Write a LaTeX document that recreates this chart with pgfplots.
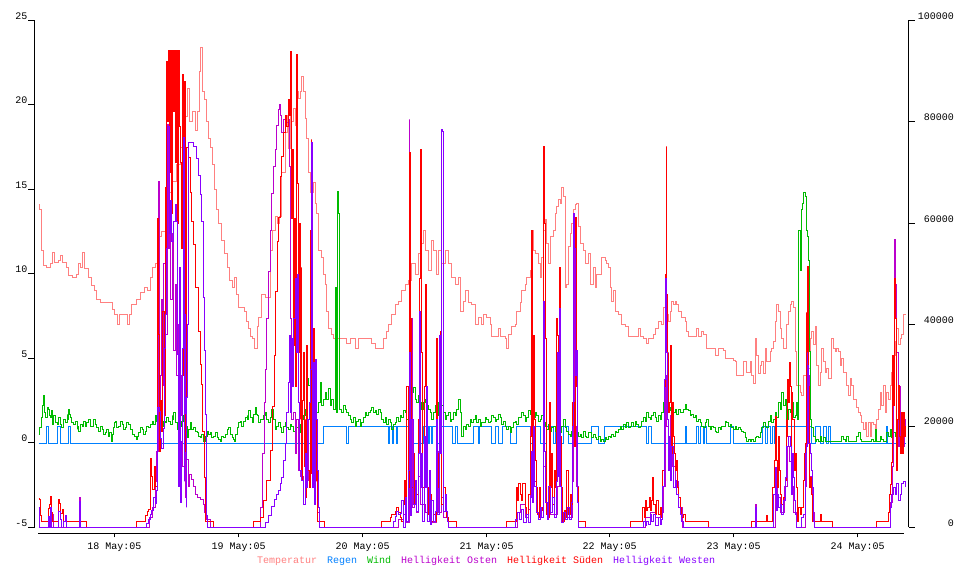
\documentclass[border=0pt]{standalone}
\usepackage{pgfplots}
\pgfplotsset{compat=1.18}
\usepackage{fontspec}
\setmainfont{Liberation Mono}
\definecolor{ctemp}{HTML}{FF8080}
\definecolor{cregen}{HTML}{0080FF}
\definecolor{cwind}{HTML}{00BB00}
\definecolor{costen}{HTML}{BB00CC}
\definecolor{csued}{HTML}{FF0000}
\definecolor{cwest}{HTML}{8800FF}
\begin{document}
\begin{tikzpicture}[x=1bp,y=1bp]
\fill[white] (0,0) rectangle (970,570);
\useasboundingbox (0,0) rectangle (970,570);
\pgfplotsset{
  myax/.style={at={(34.5bp,42.5bp)}, anchor=south west, scale only axis,
    width=874bp, height=507bp, xmin=34.5, xmax=908.5,
    axis x line=none, tick align=outside, major tick length=6bp,
    every tick/.style={black, line width=1bp},
    axis line style={line width=1bp, black},
    tick label style={font=\fontsize{10bp}{12bp}\selectfont, inner sep=0pt},
    scaled y ticks=false,
    x filter/.expression={floor(x)+0.5},
    every axis plot/.append style={line width=1bp, const plot, mark=none}},
}
% ---------------- left axis: temperature, rain, wind
\begin{axis}[myax, ymin=-5, ymax=25, axis y line*=left,
  y filter/.expression={round((y+5)*16.9)/16.9-5},
  ytick={-5,0,5,10,15,20,25},
  yticklabels={-5,0,5,10,15,20,25},
  yticklabel style={anchor=east, xshift=-1bp, yshift=4.5bp}]
\addplot[ctemp] coordinates {
(38,14.1)(39.5,13.8)(41,11.4)(43,10.5)(46,10.4)(50,10.6)(52,11.3)(54,10.7)(58,10.8)(60,11.1)(62,10.7)(66,10.4)(68,9.9)(72,9.8)(76,10.0)(78,10.6)(80,10.4)(82,11.3)(84,10.3)(88,9.8)(91,9.3)(94,9.0)(96,8.5)(100,8.3)(108,8.3)(112,7.9)(114,7.6)(117,7.0)(119,7.6)(126,7.6)(127,7.0)(129,7.6)(131,8.2)(136,8.5)(140,8.9)(144,9.2)(147,9.0)(150,9.8)(152,10.4)(155,10.6)(157,11.2)(159,12.2)(161,12.5)(165,12.6)(167,14.0)(169,14.8)(172,15.5)(176,16.5)(180,17.5)(184,19.3)(187,21.0)(189,19.0)(192,19.6)(195,18.5)(197,19.6)(199,22.0)(200,23.4)(202,20.8)(204,20.3)(206,19.0)(208,18.0)(210,17.5)(212,16.5)(214,15.0)(216,13.8)(218,13.0)(221,12.0)(224,11.2)(227,10.4)(229,9.6)(232,9.2)(234,9.8)(236,8.8)(238,8.0)(244,7.8)(246,7.2)(248,6.8)(250,6.3)(252,6.2)(254,5.6)(257,6.9)(258.5,7.4)(261,8.8)(265,8.6)(268,8.6)(270,11.4)(272,12.6)(275,13.4)(277,13.0)(279,13.4)(281.7,16.0)(285,18.4)(287,19.4)(288.3,17.4)(290,19.4)(291.7,19.0)(293.3,19.8)(295,18.8)(296.7,20.8)(298.3,20.4)(300,20.8)(301.7,21.7)(303.3,20.8)(305,19.2)(306.7,18.0)(308.3,16.0)(310,14.8)(313.3,15.4)(315,14.2)(316.7,13.6)(318.3,11.4)(321.7,11.0)(323.3,10.0)(325,9.4)(326.7,7.8)(328.3,6.8)(331.7,6.4)(333.3,6.2)(345,6.2)(346,5.9)(348.3,5.9)(350,6.2)(352,6.2)(355,5.6)(358.3,6.2)(368,6.2)(371.7,5.9)(375,5.6)(383.3,6.2)(386.7,6.6)(388.3,7.0)(391.7,7.6)(395,8.2)(398.3,8.4)(401.7,9.0)(405,9.4)(408.3,9.6)(411.7,10.6)(415,10.0)(418.3,11.2)(421.7,11.8)(423.3,12.6)(425,11.4)(428.3,10.2)(431.7,12.0)(433.3,11.4)(436.7,10.0)(438.3,11.4)(441.7,10.6)(445,11.4)(448.3,10.6)(451.7,9.8)(455,9.4)(458.3,9.8)(460,7.8)(463.3,8.4)(465,9.0)(468.3,8.3)(471.7,8.2)(475,7.0)(478.3,7.4)(481.7,7.0)(483.3,7.6)(486.7,7.4)(490,7.0)(491.7,6.3)(498.3,6.8)(500,6.3)(505,6.2)(506,5.6)(508.3,6.4)(511.7,6.9)(515,7.0)(516.7,7.8)(520,8.3)(521.7,9.0)(525,9.4)(526.7,9.8)(530,10.2)(531.7,12.6)(533.3,11.4)(535,11.2)(538.3,10.6)(540,9.8)(541.7,11.0)(543.3,12.6)(545,13.2)(546.7,11.8)(548.3,10.6)(550,12.2)(553.3,12.6)(555,13.6)(556.7,14.0)(558.3,14.4)(560,14.2)(561.7,15.1)(563.3,14.6)(565,9.2)(566.7,9.4)(568.3,11.6)(570,12.4)(571.7,13.0)(573.3,13.8)(575,14.1)(576.7,14.2)(578.3,12.8)(580,11.8)(583.3,11.4)(585,10.6)(588.3,11.2)(590,9.4)(593.3,10.4)(595,9.2)(596.7,10.0)(600,10.0)(601.7,11.0)(605,10.8)(606.7,10.6)(608.3,10.4)(610,9.2)(611.7,8.4)(613.3,9.0)(615,7.8)(618.3,7.6)(621.7,7.0)(625,6.9)(628.3,6.3)(636.7,6.3)(638.3,6.8)(640,6.3)(643.3,6.2)(646,5.9)(648.3,6.2)(653.3,6.4)(655,6.8)(658.3,7.2)(661.7,7.0)(663.3,8.0)(666.7,7.6)(668.3,7.2)(670,7.8)(671.7,8.4)(673.3,8.2)(675,8.4)(676.7,8.2)(678.3,7.8)(681.7,7.4)(685,7.2)(686.7,6.6)(688.3,6.3)(695,6.3)(696.7,6.8)(698.3,6.3)(701.7,6.6)(703.3,6.4)(706.7,5.6)(715,5.2)(718.3,5.6)(723.3,5.5)(725,5.0)(733.3,4.9)(735,4.8)(736.7,4.0)(741.7,4.0)(743.3,4.8)(746.7,4.2)(750,4.8)(751.7,4.0)(753.3,3.5)(755,6.2)(756.7,5.2)(758.3,4.1)(760,4.6)(761.7,4.8)(763.3,4.1)(765,5.6)(766.7,4.8)(770,5.4)(771.7,5.6)(773.3,6.0)(775,7.2)(776.7,8.2)(778.3,7.8)(780,6.8)(781.7,6.2)(783.3,5.6)(786.7,7.0)(788.3,7.8)(790,8.2)(791.7,8.4)(793.3,8.0)(795,5.4)(796.7,3.4)(800,3.0)(801.7,2.8)(803.3,4.0)(806.7,4.4)(810,6.2)(811.7,6.6)(813.3,5.8)(815,6.9)(816.7,4.6)(818.3,3.4)(820,4.2)(821.7,5.6)(823.3,4.8)(825,4.2)(826.7,4.4)(828.3,3.8)(831.7,6.2)(833.3,5.6)(835,5.4)(836.7,5.6)(838.3,5.4)(840,4.6)(841.7,5.0)(843.3,4.2)(846.7,3.4)(848.3,2.8)(850,3.8)(851.7,3.4)(853.3,2.6)(856.7,2.1)(858.3,1.8)(860,1.6)(861.7,1.2)(863.3,0.8)(865,1.2)(866.7,0.4)(868.3,1.2)(870,0.4)(871.7,1.2)(873.3,1.1)(875,0.8)(876.7,1.4)(878.3,2.0)(880,3.0)(881.7,2.2)(883.3,3.4)(885,1.8)(886.7,3.0)(888.3,2.6)(890,3.4)(891.7,4.2)(892.7,5.2)(895,6.0)(896.7,6.8)(898.3,5.8)(900,6.2)(901.7,6.4)(903.3,7.6)(905,7.6)
};
\addplot[cregen] coordinates {
(38,0)(46.7,1)(48.3,0)(57.3,1)(60,0)(68.3,1)(70.5,0)(323,1)(346.5,0)(348.5,1)(388,0)(389.5,1)(392,0)(393.5,1)(396,0)(397.5,1)(408.3,0)(423,1)(428,0)(429.5,1)(431,0)(432,1)(436,0)(440,1)(452,0)(455,1)(457,0)(473,1)(478,0)(479,1)(491.7,0)(495,1)(498,0)(502.7,1)(510,0)(516.7,1)(530,0)(533,1)(540,0)(546,1)(549,0)(550,1)(553,0)(555,1)(560,0)(563,1)(568,0)(591.7,1)(598.3,0)(604,1)(646,0)(648,1)(651.7,0)(685,1)(686.7,0)(696.7,1)(698.5,0)(700,1)(703,0)(704,1)(706.7,0)(730,1)(733.3,0)(762,1)(765,0)(767,1)(770,0)(772,1)(774,0)(775,1)(811.7,0)(815,1)(820,0)(823.3,1)(826.7,0)(828.3,1)(830,0)(886,1)(887.3,0)(896,1)(898,0)(905,0)
};
\addplot[cwind] coordinates {
(38,0.5)(39.5,0.9)(41,1.5)(42,2.2)(43,2.8)(44,2.1)(44.5,1.8)(45.5,1.5)(47,1.7)(47.5,2.1)(48,2.0)(49,1.6)(50,1.5)(51,1.9)(52,1.3)(52.5,1.1)(53,1.6)(55,1.2)(57,1.1)(58.5,1.5)(60,1.1)(61.5,0.9)(63,1.4)(65,1.2)(67,1.7)(67.5,1.4)(68,2.0)(69,1.7)(70,1.5)(71.5,1.2)(73,1.1)(75,1.3)(77,0.8)(77.5,1.0)(78,0.7)(80,1.1)(82,1.0)(83.5,1.3)(85,1.0)(86.5,1.2)(88,1.4)(90,1.0)(92,1.0)(93.5,1.4)(95,1.1)(96.5,0.9)(98,0.7)(100,1.0)(102,0.8)(103.5,0.5)(105,0.6)(106.5,0.8)(108,0.4)(109.5,0.6)(111,0.1)(112,0.5)(113,0.9)(114,1.2)(115,1.3)(116.5,0.9)(118,1.0)(120,1.3)(122,1.1)(123.5,0.8)(125,0.9)(126.5,1.2)(128,1.1)(130,0.8)(132,0.5)(134,0.4)(136,0.2)(137,0.4)(138,0.6)(140,0.9)(142,0.8)(143.5,0.5)(145,0.7)(146.5,1.0)(148,0.9)(150,1.1)(152,1.3)(153.5,1.1)(155,1.6)(156.5,1.3)(158,1.2)(160,0.9)(162,1.0)(163.5,1.3)(165,1.2)(166.5,1.5)(168,1.3)(170,1.1)(172,1.6)(172.5,1.4)(173,1.8)(175,1.2)(177,0.8)(178.5,1.1)(180,1.0)(181.5,1.3)(183,1.6)(185,1.0)(187,0.3)(188.5,0.8)(190,1.2)(191.5,0.8)(193,0.9)(195,0.7)(197,0.6)(198.5,0.4)(200,0.3)(201.5,0.5)(203,0.1)(205,0.4)(207,0.7)(208.5,0.5)(210,0.6)(211.5,0.3)(213,0.4)(215,0.6)(217,0.3)(218.5,0.2)(220,0.1)(221.5,0.4)(223,0.3)(225,0.5)(227,0.6)(227.5,0.8)(228,0.9)(230,0.5)(232,0.3)(233,0.2)(234,0.1)(235.5,0.5)(237,0.9)(238.5,1.2)(240,1.3)(241.5,1.0)(243,1.3)(245,1.5)(247,1.6)(247.5,1.4)(248,1.9)(250,1.5)(252,1.2)(253.5,1.7)(255,2.1)(256,1.7)(257,1.6)(258.5,1.2)
(260,1.4)(261.7,1.4)(263.3,1.6)(265,1.8)(266.7,1.4)(268.3,1.2)(270,1.5)(271.7,2.0)(273.3,1.4)(275,0.8)(276.7,1.0)(278.3,1.2)(280,0.9)(281.7,0.6)(283.3,1.0)(285,1.2)(286.7,0.9)(288.3,0.8)(290,1.1)(291.7,1.0)(293.3,0.7)(295,1.0)(296.7,0.9)(298.3,0.6)(300,1.1)(301.7,1.4)(303.3,1.6)(305,2.0)(306,3.0)(306.7,3.8)(308.3,3.4)(310,2.6)(311.7,2.2)(313.3,1.4)(315,3.0)(316.7,1.8)(318.3,2.4)(320,3.6)(321.7,2.2)(323.3,2.6)(325,3.0)(326.7,2.6)(328.3,3.2)(330,2.2)(331.7,2.6)(333.3,2.0)(335,9.2)(336,1.8)(337,14.9)(338.3,13.6)(339.3,2.0)(341.7,1.8)(343.3,2.2)(345,2.0)(346.7,1.8)(348.3,1.6)(350,1.4)(351.7,1.2)(353.3,1.5)(355,1.0)(356.7,1.3)(358.3,1.4)(360,1.0)(361.7,1.2)(363.3,1.5)(365,1.8)(366.7,1.6)(368.3,1.8)(370,1.9)(371.7,2.1)(373.3,1.8)(375,1.9)(376.7,1.7)(378.3,2.0)(380,1.8)(381.7,1.4)(383.3,1.2)(385,1.5)(386.7,1.1)(388.3,1.4)(390,1.2)(391.7,0.8)(393.3,1.1)(395,1.2)(396.7,1.5)(398.3,1.3)(400,1.6)(401.7,1.5)(403.3,1.9)(405,1.8)(406.7,1.4)(408.3,1.4)(410,2.2)(411.7,3.0)(413.3,3.3)(415,2.6)(416.7,2.4)(418.3,2.8)(420,2.4)(421.7,2.0)(423.3,2.4)(425,2.6)(426.7,2.2)(428.3,2.0)(430,1.8)(431.7,1.4)(433.3,1.8)(435,2.2)(436.7,1.6)(438.3,2.4)(440,2.0)(441.7,2.2)(443.3,1.8)(445,1.4)(446.7,1.6)(448.3,1.8)(450,1.3)(451.7,1.4)(453.3,1.8)(455,1.6)(456.7,2.0)(458.3,2.6)(460,1.8)(461.7,0.4)(463.3,1.0)(465,0.8)(466.7,1.1)(468.3,1.0)(470,1.4)(471.7,1.2)(473.3,1.4)(475,1.6)(476.7,1.2)(478.3,1.4)(480,1.0)
(481.7,1.2)(483.3,1.2)(485,1.5)(486.7,1.4)(488.3,1.2)(490,1.3)(491.7,1.6)(493.3,1.5)(495,1.3)(496.7,1.4)(498.3,1.7)(500,1.5)(501.7,1.1)(503.3,1.3)(505,1.0)(506.7,0.8)(508.3,1.0)(510,0.6)(511.7,0.9)(513.3,1.2)(515,1.3)(516.7,1.1)(518.3,1.5)(520,1.5)(521.7,1.8)(523.3,1.6)(525,1.3)(526.7,1.5)(528.3,1.9)(530,1.7)(531.7,1.4)(533.3,1.5)(535,1.8)(536.7,1.6)(538.3,1.3)(540,1.4)(541.7,1.6)(543.3,1.2)(545,1.0)(546.7,0.8)(548.3,1.1)(550,0.7)(551.7,0.9)(553.3,1.0)(555,0.7)(556.7,0.8)(558.3,0.5)(560,0.6)(561.7,1.0)(563.3,1.4)(565,0.9)(566.7,0.7)(568.3,0.5)(570,0.4)(571.7,0.7)(573.3,0.5)(575,0.3)(576.7,0.6)(578.3,0.4)(580,0.5)(581.7,0.3)(583.3,0.7)(585,0.4)(586.7,0.3)(588.3,0.6)(590,0.6)(591.7,0.3)(593.3,0.5)(595,0.3)(596.7,0.2)(598.3,0.4)(600,0.1)(601.7,0.2)(603.3,0.1)(605,0.3)(606.7,0.2)(608.3,0.4)(610,0.3)(611.7,0.5)(613.3,0.4)(615,0.7)(616.7,0.6)(618.3,0.8)(620,1.0)(621.7,0.8)(623.3,1.1)(625,0.9)(626.7,1.2)(628.3,0.9)(630,1.0)(631.7,1.2)(633.3,1.0)(635,1.3)(636.7,1.1)(638.3,0.9)(640,1.0)(641.7,1.3)(643.3,1.5)(645,1.3)(646.7,1.8)(648.3,1.5)(650,1.4)(651.7,1.6)(653.3,1.8)(655,1.5)(656.7,1.3)(658.3,1.6)(660,1.4)(661.7,1.8)(663.3,2.4)(665,2.0)(666.7,2.2)(668.3,1.9)(670,2.1)(671.7,2.2)(673.3,1.8)(675,2.0)(676.7,1.7)(678.3,2.0)(680,1.8)(681.7,1.8)(683.3,2.0)(685,2.3)(686.7,2.0)(688.3,1.9)(690,1.6)(691.7,1.7)(693.3,1.5)(695,1.6)(696.7,1.3)(698.3,1.4)(700,1.2)
(701.7,1.0)(703.3,0.9)(705,1.2)(706.7,1.4)(708.3,1.0)(710,0.8)(711.7,1.0)(713.3,0.9)(715,0.7)(716.7,0.6)(718.3,0.9)(720,0.8)(721.7,1.0)(723.3,1.0)(725,1.3)(726.7,1.2)(728.3,1.0)(730,1.1)(731.7,0.9)(733.3,0.8)(735,1.0)(736.7,0.8)(738.3,0.9)(740,0.8)(741.7,0.7)(743.3,0.6)(745,0.3)(746.7,0.1)(748.3,0.2)(750,0.1)(751.7,0.2)(753.3,0.1)(755,0.3)(756.7,0.4)(758.3,0.3)(760,0.6)(761.7,0.9)(763.3,1.2)(765,1.0)(766.7,0.9)(768.3,1.3)(770,1.6)(771.7,1.2)(773.3,1.4)(775,1.8)(776.7,1.5)(778.3,2.4)(780,2.0)(781.7,3.0)(783.3,2.2)(785,2.6)(786.7,1.4)(788.3,2.0)(790,1.8)(791.7,2.4)(793.3,1.5)(795,1.6)(796.5,2.4)(797.5,1.4)(798.7,12.6)(800,10.2)(801,13.8)(802.3,14.2)(803.7,14.8)(805,14.6)(806,12.6)(807.3,12.2)(808.3,10.8)(809,5.4)(810,1.4)(811.7,0.9)(813.3,0.4)(815,0.1)(816.7,0.2)(818.3,0.1)(820,0.4)(821.7,0.1)(823.3,0.3)(825,0.1)(840,0.1)(841.7,0.4)(843.3,0.2)(845,0.1)(846.7,0.4)(848.3,0.1)(855,0.1)(856.7,0.4)(858.3,0.6)(860,0.2)(861.7,0.1)(870,0.1)(871.7,0.2)(873.3,0.1)(875,0.8)(876.7,0.1)(880,0.4)(881.7,0.2)(883.3,0.1)(886.7,0.6)(888.3,0.4)(890,0.8)(891.7,0.3)(893.3,0.6)(895,0.4)(896.7,0.5)(898.3,0.3)(900,0.8)(901.7,0.4)(903.3,0.6)(905,0.5)
};
\end{axis}
% ---------------- right axis: brightness
\begin{axis}[myax, ymin=0, ymax=100000, axis y line*=right,
  y filter/.expression={round(y*0.00507)/0.00507},
  ytick={0,20000,40000,60000,80000,100000},
  yticklabels={0,20000,40000,60000,80000,100000},
  yticklabel style={anchor=east, xshift=39.5bp, yshift=4.5bp}]
\addplot[costen] coordinates {
(38,0)(50,2500)(53,0)(79.5,6000)(80.7,0)
(148,0)(149,2000)(152,4000)(155,9000)(156.5,15000)(158.3,68300)(159,20000)(160,30000)(161,45000)(162,28000)(163.5,52000)(165,38000)(167,79500)(168,55000)(169,62000)(170.5,45000)(172,58000)(173.5,35000)(175,48000)(176.5,30000)(178,40000)(179.5,22000)(181,30000)(182.5,12000)(184,18000)(185.5,6000)(186.7,13400)(188,8000)(189,10500)(191.7,9500)(193,8000)(195,6500)(197,6000)(200,5500)(203,4500)(204.5,3000)(206.7,1600)(210,0)
(259,0)(260.7,3900)(262.3,14600)(264,24600)(265,31200)(266.7,41200)(268.3,50500)(270,58500)(271.7,65900)(273.3,71200)(275,74500)(276.7,79200)(278.3,82500)(279.3,83500)(280.3,81200)(281.7,77900)(283.3,80500)(285,81200)(286.7,79900)(288.3,80500)(289.3,71200)(290.3,41200)(291.7,21300)(293.3,22600)(295,14600)(296.7,21300)(298.3,11300)(300,10000)(303.3,4600)(305,9200)(308.3,21300)(310,14000)(311.7,30000)(313,8000)(315,12000)(317,3000)(319,0)
(395,0)(398,1500)(403,2500)(406,1000)(409,80500)(409.7,21300)(410.7,41200)(412,4000)(414,7000)(416,3000)(418,10000)(420,4600)(425,3000)(430,1000)(436.7,15000)(438,3000)(441,6000)(443,2000)(448,0)
(515,0)(517,3000)(520,4600)(525,2000)(528,3500)(530.5,20000)(531.7,58500)(532.5,15000)(534,9000)(536,3000)(540,2000)(543,12000)(545,5000)(550,2500)(557,8000)(559,15000)(561,3000)(566,2000)(572,9000)(573.3,61900)(574.3,20000)(576,8000)(578,0)
(642,0)(645,2000)(650,3000)(655,2000)(660,3000)(663,8000)(665,30000)(666,20000)(668,16000)(670,22000)(672,12000)(675,9000)(678,4000)(682,0)
(754,0)(755,4600)(756.5,0)(773,0)(775,11000)(777,6000)(780,3000)(784,8000)(787,16000)(789,13000)(791,8000)(793,3000)(796,0)(804,0)(805,8000)(806.7,33200)(808,30000)(809.5,10000)(812,3000)(814,0)
(888,0)(890,5000)(892,12000)(893.3,25000)(894.3,56900)(895.7,47900)(896.7,34500)(898,16000)(899.3,27900)(900.5,18000)(901.3,22600)(902.3,19300)(903.3,15900)(904.3,21300)(905,20000)
};
\addplot[csued] coordinates {
(38.3,5800)(39.5,5600)(40,2300)(41.7,1100)(48,1100)(48.3,3700)(49.2,4500)(50,6200)(51,2900)(52,1100)(58,1100)(58.3,5500)(59.5,4800)(60.5,2800)(62,3500)(63.3,1100)(86.7,0)
(136,1100)(145,2400)(147,3200)(148,3500)(150,13600)(151.5,10000)(152.7,7400)(154,12000)(155.7,8000)(157,20000)(157.7,61000)(158.7,38000)(159.5,15000)(160.5,25000)(161.7,19000)(162.7,42600)(164,22000)(165,60000)(165.7,67000)(166.3,50000)(166.7,92000)(167.7,80000)(168.3,94000)(169.5,70000)(170.5,94000)(171.5,62000)(172.5,94000)(173.5,82000)(174.5,94000)(175.7,72000)(176.7,94000)(177.5,60000)(178.5,94000)(179.5,79000)(180.5,72000)(181.5,55000)(182.7,89300)(183.5,30000)(184,88000)(185,35000)(185.6,15000)(186.3,75000)(188.3,72900)(190,66000)(191.7,60400)(193.3,55800)(195.7,47300)(198.3,38700)(200,32200)(201,28200)(202.7,19000)(204,9800)(205.3,1250)(213.3,0)
(253,1250)(258.5,1250)(260,2000)(263.3,5260)(266.7,9250)(270,15250)(272.3,23900)(274.3,33900)(275.7,46500)(277.3,56500)(278.3,61200)(280,69200)(281.7,73200)(283.3,77900)(285,81200)(286.7,79000)(288.3,84500)(289.3,81200)(290,93800)(291,61000)(292.3,74500)(293.3,35800)(294.3,61000)(295.7,27900)(296.7,93200)(297.7,67800)(298.3,34500)(299,60000)(300,21300)(300.7,40000)(301,51200)(301.7,9300)(302.5,25000)(303.3,34500)(304,12000)(305,21300)(305.7,6000)(306.7,35900)(307.7,11300)(309,7900)(310,58500)(311,76500)(311.7,10600)(312.5,20000)(313.3,39200)(314.3,7900)(315,33200)(316,9000)(316.7,14600)(317.7,1250)(323.3,1250)(324.5,0)
(381.7,1250)(390,2000)(391.7,2600)(395,3200)(396.7,3900)(398.3,2900)(400,1900)(401.7,1250)(403.3,4600)(404.3,9250)(405,5300)(406.7,27900)(408.3,7900)(409,50500)(409.3,73900)(410,14600)(410.7,41200)(411.7,7900)(413.3,14600)(414.3,4600)(415.7,9250)(416.7,6600)(418.3,21300)(419.3,49200)(420.3,74500)(421,67800)(421.7,34500)(422.7,7900)(424,27900)(425,47900)(426,14600)(427.3,7900)(428.3,2600)(430,6600)(431.7,1250)(433.3,2600)(435,1250)(436.7,37200)(437.7,14600)(438.3,7900)(439.3,34500)(440.3,38600)(441.7,4600)(443.3,7900)(445,3900)(446.7,1900)(448.3,1250)(455,1250)(456.7,0)
(505,0)(506.7,1250)(515,1250)(516,7900)(517.3,5300)(518.3,8600)(520,6600)(521.7,5300)(522.7,8600)(525,3900)(526.7,2600)(528.3,6600)(530,17900)(531,37900)(531.7,58500)(532.3,7900)(533.3,37900)(534,21300)(535,13300)(536,7900)(537.3,2600)(538.3,1900)(539.3,7900)(540.7,4000)(542,3300)(543.3,75200)(544.3,59900)(545,37200)(546,27900)(546.7,2600)(548.3,1900)(549.3,24600)(550.7,7900)(551.7,14600)(552.7,4600)(554,11300)(555,7900)(556,41200)(557.3,37900)(558.3,31200)(559.3,51200)(560,17900)(561,7900)(562.3,1250)(564,3300)(565,2000)(566.7,11300)(568.3,2600)(570,6600)(571.7,4600)(572.7,24600)(574,15900)(575,61200)(576,27900)(577.3,7900)(578.3,1250)(585,0)
(628.3,0)(630,1250)(642,1250)(642.7,4000)(644,2000)(645,5300)(646.7,3300)(647.7,4000)(649,5900)(650,3300)(651,5300)(652.3,9900)(653.3,4600)(655,2600)(656.7,5300)(658.3,2600)(660,3900)(661.7,1900)(662.7,11300)(664,27900)(665,49900)(666,75200)(666.7,45900)(667.3,27900)(668,34500)(668.7,22600)(669.3,24600)(670,35900)(671,27900)(671.7,14600)(672.7,24600)(673.3,17900)(674.3,14600)(675.3,11300)(676.7,13300)(677.7,7900)(678.7,5900)(680,3900)(681.7,1900)(683.3,2600)(685,1250)(708.3,0)
(751.7,1250)(766,1250)(766.7,2300)(767.5,1250)(771.7,1250)(772.7,7900)(774,13300)(775,21900)(776,13300)(777,7900)(778,17900)(779,11300)(780,6600)(781.7,4600)(783.3,5900)(785,9250)(786,21300)(786.7,17900)(787.7,29200)(788.7,24600)(789.3,32600)(790.3,27900)(791,14600)(791.7,26600)(792.7,21300)(794,11300)(795,14600)(796,7900)(797.3,1250)(798.3,3900)(800,2600)(801.7,3900)(803.3,9250)(804.3,14600)(805.3,16600)(806,42500)(806.7,27900)(807.3,51500)(808,37200)(808.7,27900)(809.3,7900)(810.7,9900)(811.7,6600)(812.7,1250)(820,2600)(821,1250)(831.7,1250)(832.7,0)
(876.7,1100)(887.3,1100)(888,3000)(889.3,6500)(890.7,8500)(891.7,12800)(892.7,33900)(893.3,24000)(894,49200)(895,41200)(896,14600)(896.7,11300)(897.7,21300)(898.7,28000)(899.5,18000)(900,14600)(901,22600)(902,14600)(903,22600)(904,18000)(905,20000)
};
\addplot[cwest] coordinates {
(38.3,4000)(39,0)(48.3,2100)(49.3,0)(50,4000)(51.5,0)(58.3,3200)(60,1500)(61,0)(63.3,1100)(65,2400)(66.7,0)(79.3,5200)(80.7,0)
(145,0)(146,800)(148,1500)(150,2600)(151.7,3300)(153.3,6000)(155,4700)(156.7,7300)(157.7,23600)(159,22900)(160,17600)(161.7,15600)(163,19600)(164,35400)(165,42000)(166.7,55000)(167.7,79100)(169,58000)(170,64400)(171.7,56500)(173.3,60400)(175,63700)(176.7,60400)(177.7,34100)(178.5,8000)(179,51200)(180,44000)(180.7,5000)(181.7,17000)(182.7,35400)(183.7,77000)(184.3,9000)(184.7,42000)(185.3,22500)(186,4000)(186.7,25600)(187.5,40000)(188,76000)(193.3,75100)(196.7,72800)(198.3,69500)(200,65600)(201.7,60400)(203.3,45300)(204,35000)(205,22200)(206,2400)(207,0)
(261.7,0)(265,1000)(268.3,2400)(271.7,4200)(274,5500)(276.7,6600)(278.3,7300)(280,8600)(281.7,9900)(283.3,13300)(285,16600)(286.7,22600)(288.3,28600)(289.3,37900)(290.3,22600)(291.7,37200)(292.7,27900)(293.7,41200)(295,49200)(296,34500)(297.3,49900)(298.3,24600)(299.3,11300)(301.7,9300)(303.3,4600)(305,14600)(306.7,7900)(307.7,21300)(309,24600)(310,31200)(311,54500)(311.7,75900)(312.7,7900)(313.3,32600)(314.3,4600)(315,33200)(316,21300)(317,11300)(318.3,3900)(319,0)
(393.3,1250)(395,2100)(396.7,3200)(398.3,2500)(400,2800)(401.7,5300)(403.3,0)(405,5900)(406.7,1250)(408.3,11300)(409,34600)(410,10000)(410.7,2300)(411.7,21300)(413.3,4600)(415,9200)(416.7,3100)(418.3,14600)(419.3,42600)(420.3,7900)(421.7,14600)(422.7,1250)(424,17900)(425,7900)(426.7,27900)(427.7,1250)(429,11300)(430,600)(431.7,5300)(433.3,1250)(435,3200)(436.7,21300)(437.7,2600)(439,37900)(440,14600)(441,78500)(442.3,78200)(443.3,3200)(445,6600)(446.7,3200)(447.7,1250)(448.3,0)
(514,0)(515,1500)(517,3000)(519,1500)(521,3500)(523,1000)(526,2500)(528,1000)(530,6000)(531,15000)(532,5000)(533.3,20000)(534.5,8000)(536,3000)(538,1500)(540,4000)(541.5,2000)(543.3,44600)(544.5,15000)(545.5,5000)(547,1500)(548.5,8000)(550,3000)(552,6000)(554,2000)(556,9000)(557.7,34600)(558.3,10000)(559,43200)(560,8000)(561.5,1000)(563,3000)(565,1500)(567,4000)(569,1500)(571,5000)(572.5,20000)(573.3,61900)(574.3,55000)(575.3,30000)(576.7,35000)(577.5,5000)(578.3,0)
(641,0)(643.3,1250)(645,300)(646.7,1250)(648.3,600)(650,2500)(651.7,1250)(653.3,2600)(655,300)(658.3,2000)(660,600)(661.7,1600)(662.7,8000)(664,29200)(665.3,49200)(666,44600)(666.7,34600)(667.3,21300)(668,11300)(669.3,17900)(670.7,9300)(671.7,15900)(673.3,7900)(675,9300)(676.7,6600)(678.3,3900)(680,2600)(681.7,1250)(683.3,0)
(754,0)(755,4000)(756.7,0)(772.7,0)(773.3,6600)(775,11900)(776,3300)(777.3,6600)(778.3,4000)(780,4600)(781.7,2600)(783.3,5300)(785,9900)(786.7,15900)(788.3,17900)(790,15900)(791,6600)(792.3,14600)(793.3,9900)(794.3,5300)(795.7,2600)(796.7,0)(801.7,1900)(803.3,2600)(805,14600)(806,15900)(807,34600)(807.7,32000)(808.7,16600)(810,14600)(811,11300)(812,7900)(813.3,1250)(814,0)
(888.3,0)(890,4000)(891.7,6600)(893.3,7900)(895,6600)(896.7,8600)(898.3,5300)(900,6600)(901.7,8600)(903.3,9000)(905,7900)
};
\end{axis}
% ---------------- bottom time axis
\begin{axis}[at={(38bp,36.5bp)}, anchor=south west, scale only axis,
  width=866bp, height=10bp, xmin=38, xmax=904, ymin=0, ymax=1,
  axis x line*=bottom, axis y line=none,
  xtick={114.5,238.5,362.5,486.5,609.5,733.5,857.5},
  xticklabels={18 May:05,19 May:05,20 May:05,21 May:05,22 May:05,23 May:05,24 May:05},
  tick align=outside, major tick length=4bp,
  every tick/.style={black, line width=1bp},
  axis line style={line width=1bp, black},
  xticklabel style={font=\fontsize{10bp}{12bp}\selectfont, inner sep=0pt, anchor=north, yshift=-5bp}]
\end{axis}
\node[anchor=base west, inner sep=0pt, font=\fontsize{10bp}{12bp}\selectfont] at (256.8,6.7)
  {\textcolor{ctemp}{Temperatur}\hspace{10bp}\textcolor{cregen}{Regen}\hspace{10bp}\textcolor{cwind}{Wind}\hspace{10bp}\textcolor{costen}{Helligkeit Osten}\hspace{10bp}\textcolor{csued}{Helligkeit Süden}\hspace{10bp}\textcolor{cwest}{Helligkeit Westen}};
\end{tikzpicture}
\end{document}
